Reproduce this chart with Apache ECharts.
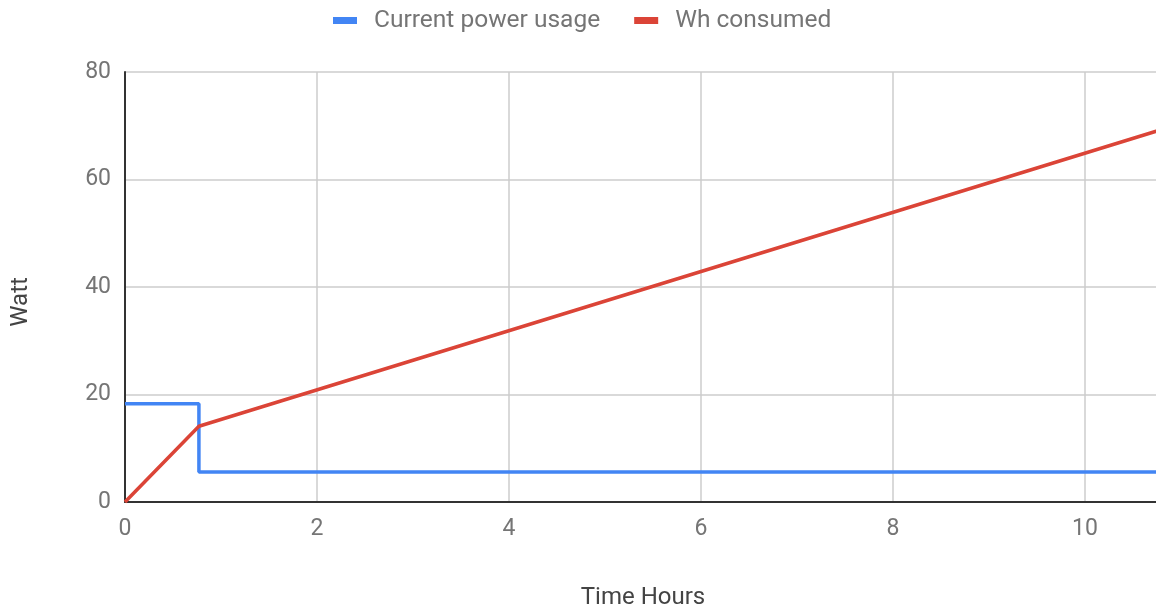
<!DOCTYPE html>
<html>
<head>
<meta charset="utf-8">
<script src="https://cdn.jsdelivr.net/npm/echarts@6/dist/echarts.min.js"></script>
<style>
  html, body { margin: 0; padding: 0; background: #fff; overflow: hidden; }
  /* the plot runs on past the right edge of the window */
  #chart { width: 1300px; height: 612px; }
</style>
</head>
<body>
<div id="chart"></div>
<script>
// Time points (hours) and readings
const hours = [0, 0.77, 12];
const powerW = [18.3, 5.6, 5.6];        // current power usage, W
const energyWh = [0, 14.1, 75.9];       // cumulative Wh consumed
const seriesNames = ['Current power usage', 'Wh consumed'];
const xTitle = 'Time Hours';
const yTitle = 'Watt';

const FONT = 'Roboto';
const chart = echarts.init(document.getElementById('chart'));

chart.setOption({
  animation: false,
  textStyle: { fontFamily: FONT },
  color: ['#4285F4', '#DB4437'],
  legend: {
    top: 3,
    left: 328,
    icon: 'rect',
    itemWidth: 24,
    itemHeight: 7,
    itemGap: 34,
    textStyle: { fontFamily: FONT, fontSize: 24.5, color: '#757575', padding: [0, 0, 0, 12] },
    data: seriesNames
  },
  grid: { left: 125, right: 23, top: 72, bottom: 110, containLabel: false },
  xAxis: {
    type: 'value',
    min: 0, max: 12, interval: 2,
    axisLine: { show: true, lineStyle: { color: '#333', width: 2 } },
    axisTick: { show: false },
    axisLabel: { fontFamily: FONT, fontSize: 23, color: '#757575', margin: 16 },
    splitLine: { show: true, lineStyle: { color: '#cccccc', width: 1.5 } }
  },
  yAxis: {
    type: 'value',
    min: 0, max: 80, interval: 20,
    axisLine: { show: true, lineStyle: { color: '#333', width: 2 } },
    axisTick: { show: false },
    axisLabel: { fontFamily: FONT, fontSize: 23, color: '#757575', margin: 14 },
    splitLine: { show: true, lineStyle: { color: '#cccccc', width: 1.5 } }
  },
  graphic: [
    {
      type: 'text', x: 643, y: 598,
      style: { text: xTitle, fontFamily: FONT, fontSize: 24, fill: '#444', align: 'center', verticalAlign: 'middle' }
    },
    {
      type: 'text', x: 21, y: 302, rotation: Math.PI / 2,
      style: { text: yTitle, fontFamily: FONT, fontSize: 24, fill: '#444', align: 'center', verticalAlign: 'middle' }
    }
  ],
  series: [
    {
      name: seriesNames[0],
      type: 'line',
      step: 'end',
      showSymbol: false,
      lineStyle: { width: 3.5 },
      data: hours.map((h, i) => [h, powerW[i]])
    },
    {
      name: seriesNames[1],
      type: 'line',
      showSymbol: false,
      lineStyle: { width: 3.5 },
      data: hours.map((h, i) => [h, energyWh[i]])
    }
  ]
});
</script>
</body>
</html>
